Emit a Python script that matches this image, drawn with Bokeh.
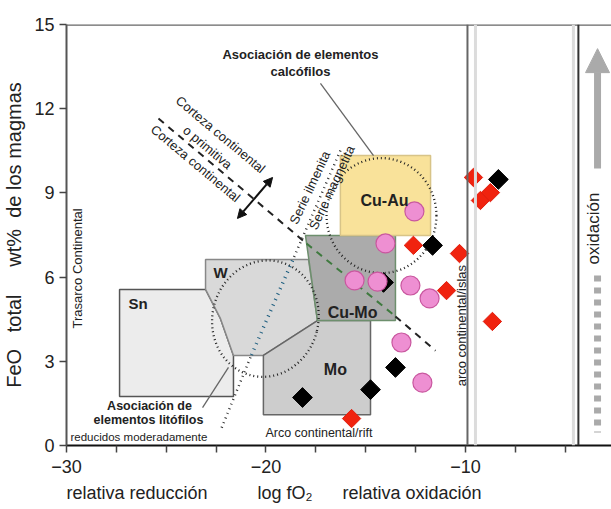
import math
from bokeh.plotting import figure
from bokeh.models import Range1d, FixedTicker, Label, Arrow, NormalHead, Span
from bokeh.embed import file_html
from bokeh.resources import INLINE

# ---------------- data ----------------
pink_x = [-14.01, -12.56, -15.56, -14.41, -12.76, -11.80, -13.21, -12.16]
pink_y = [7.20, 8.34, 5.88, 5.84, 5.70, 5.24, 3.67, 2.24]
black_x = [-14.11, -11.65, -8.35, -13.51, -14.76, -18.17]
black_y = [5.81, 7.13, 9.48, 2.78, 1.99, 1.71]
red_x = [-12.61, -10.30, -10.95, -8.65, -15.71, -9.60, -9.25, -8.75]
red_y = [7.13, 6.84, 5.52, 4.42, 0.96, 9.55, 8.73, 9.01]

x_major = [-30, -20, -10]
x_minor = [-27.5, -25, -22.5, -17.5, -15, -12.5, -7.5, -5]
y_ticks = [0, 3, 6, 9, 12, 15]

# ore-association fields (log fO2, FeO)
sn_x = [-27.34, -23.03, -22.28, -21.63, -21.63, -27.34]
sn_y = [5.56, 5.56, 4.52, 3.21, 1.75, 1.75]
w_x = [-23.03, -17.87, -17.42, -20.13, -21.63, -22.28, -23.03]
w_y = [6.63, 6.63, 4.45, 3.21, 3.21, 4.52, 5.56]
mo_x = [-20.13, -17.42, -14.76, -14.76, -20.13]
mo_y = [3.21, 4.45, 4.45, 1.10, 1.10]
cumo_x = [-18.02, -13.51, -13.51, -17.42]
cumo_y = [7.48, 7.48, 4.45, 4.45]
cuau_x = [-16.27, -11.75, -11.75, -16.27]
cuau_y = [10.33, 10.33, 7.48, 7.48]

# trend lines
crust_x = [-25.39, -17.97, -13.51, -11.50]
crust_y = [11.65, 7.20, 4.60, 3.38]
ilm_x = [-16.27, -18.67, -20.78, -22.28]
ilm_y = [10.51, 6.59, 3.14, 0.53]

FONT = "Liberation Sans"
NB = "\u00a0"

p = figure(width=611, height=509, output_backend="svg", toolbar_location=None,
           x_range=Range1d(-30, -2.68), y_range=Range1d(0, 15),
           min_border_left=66, min_border_top=24, min_border_bottom=64, min_border_right=0)
p.xgrid.visible = False
p.ygrid.visible = False
p.outline_line_color = None
p.background_fill_color = "white"

# axes
p.xaxis.ticker = FixedTicker(ticks=x_major, minor_ticks=x_minor)
p.yaxis.ticker = FixedTicker(ticks=y_ticks)
for ax in (p.xaxis[0], p.yaxis[0]):
    ax.major_label_text_font = FONT
    ax.major_label_text_font_size = "18px"
    ax.major_label_text_color = "#222"
    ax.major_tick_in = 0
    ax.major_tick_out = 7
    ax.major_tick_line_color = "#444"
    ax.major_tick_line_width = 1.5
    ax.minor_tick_in = 0
    ax.minor_tick_out = 7
    ax.minor_tick_line_color = "#444"
    ax.minor_tick_line_width = 1.5
    ax.axis_label_text_font = FONT
    ax.axis_label_text_font_style = "normal"
    ax.axis_label_text_color = "#222"
p.xaxis.axis_line_color = "#111"
p.xaxis.axis_line_width = 2
p.xaxis.major_label_standoff = 7
p.xaxis.axis_label = ("relativa reducción" + NB * 10 + "log" + NB + "fO₂" + NB * 6
                      + "relativa oxidación" + NB * 26)
p.xaxis.axis_label_text_font_size = "18px"
p.xaxis.axis_label_standoff = 7
p.yaxis.axis_line_color = "#555"
p.yaxis.axis_line_width = 2
p.yaxis.minor_tick_line_color = None
p.yaxis.major_label_standoff = 5
p.yaxis.axis_label = ("FeO" + NB * 3 + "total" + NB * 5 + "wt%" + NB * 2
                      + "de los magmas")
p.yaxis.axis_label_text_font_size = "20px"
p.yaxis.axis_label_standoff = 6

# frame top and vertical boundaries
p.add_layout(Span(location=15, dimension="width", line_color="#666", line_width=2.5))
p.add_layout(Span(location=-9.5, dimension="height", line_color="#dcdcdc", line_width=3))
p.add_layout(Span(location=-4.59, dimension="height", line_color="#dcdcdc", line_width=3))
p.add_layout(Span(location=-9.9, dimension="height", line_color="#666", line_width=2))
p.add_layout(Span(location=-4.34, dimension="height", line_color="#333", line_width=2))

# fields
p.patch(sn_x, sn_y, fill_color="#ececec", line_color="#555", line_width=1.5)
p.patch(w_x, w_y, fill_color="#d9d9d9", line_color="#888", line_width=1.5)
p.patch(mo_x, mo_y, fill_color="#cdcdcd", line_color="#666", line_width=1.5)
p.patch(cumo_x, cumo_y, fill_color="#ababab", line_color="#6d8f6d", line_width=1.5)
p.patch(cuau_x, cuau_y, fill_color="#f9e29a", line_color="#d8c488", line_width=1.5)

# association ellipses
p.ellipse(x=[-20.03], y=[4.52], width=5.31, height=4.17, angle=-0.25,
          fill_color=None, line_color="#222", line_width=2.3, line_dash="1 3")
p.ellipse(x=[-14.21], y=[8.19], width=5.51, height=4.10,
          fill_color=None, line_color="#222", line_width=2.3, line_dash="1 3")

# crust trend (dashed) and ilmenite/magnetite series line (dotted)
p.line(crust_x[:2], crust_y[:2], line_color="#222", line_width=2, line_dash="7 6")
p.line(crust_x[1:3], crust_y[1:3], line_color="#3f7a3f", line_width=2, line_dash="7 6")
p.line(crust_x[2:], crust_y[2:], line_color="#222", line_width=2, line_dash="7 6")
p.line(ilm_x[:2], ilm_y[:2], line_color="#333", line_width=2.5, line_dash="1 4")
p.line(ilm_x[1:3], ilm_y[1:3], line_color="#1f5f80", line_width=3.5, line_dash="1 5")
p.line(ilm_x[2:], ilm_y[2:], line_color="#333", line_width=2.5, line_dash="1 4")

# leader lines
p.line([-17.27, -14.61], [12.90, 10.33], line_color="#666", line_width=1.3)
p.line([-23.18, -21.88], [1.35, 2.78], line_color="#666", line_width=1.3)

# oxidation arrow and dotted column
p.line([-3.38, -3.38], [6.06, 0.46], line_color="#aaa", line_width=7, line_dash="6 6")
p.add_layout(Arrow(end=NormalHead(size=24, fill_color="#aaa", line_color="#aaa"),
                   x_start=-3.38, y_start=9.87, x_end=-3.38, y_end=14.14,
                   line_color="#aaa", line_width=7))
# crust double arrow
p.add_layout(Arrow(start=NormalHead(size=9, fill_color="#111", line_color="#111"),
                   end=NormalHead(size=9, fill_color="#111", line_color="#111"),
                   x_start=-21.43, y_start=8.09, x_end=-19.67, y_end=9.55,
                   line_color="#111", line_width=2))

# data points
p.scatter(black_x[:1], black_y[:1], marker="square", angle=math.pi / 4, size=14,
          fill_color="black", line_color="black")
p.scatter(pink_x, pink_y, marker="circle", size=19, fill_color="#ee8fd2",
          line_color="#c9579f", line_width=1.2)
p.scatter(black_x[1:], black_y[1:], marker="square", angle=math.pi / 4, size=14,
          fill_color="black", line_color="black")
p.scatter(red_x, red_y, marker="square", angle=math.pi / 4, size=13,
          fill_color="#f0230f", line_color="#e01e0e")


def lab(x, y, t, size="12px", style="normal", angle=0, align="center",
        baseline="middle", color="#222"):
    p.add_layout(Label(x=x, y=y, text=t, text_font=FONT, text_font_size=size,
                       text_font_style=style, angle=angle, angle_units="deg",
                       text_align=align, text_baseline=baseline, text_color=color))


# field names
lab(-26.89, 5.06, "Sn", "15px", "bold", align="left")
lab(-22.28, 6.16, "W", "15px", "bold")
lab(-14.06, 8.73, "Cu-Au", "16px", "bold")
lab(-15.66, 4.74, "Cu-Mo", "16px", "bold")
lab(-16.52, 2.71, "Mo", "16px", "bold")

# annotations
lab(-18.27, 13.93, "Asociación de elementos", "13px", "bold")
lab(-18.27, 13.32, "calcófilos", "13px", "bold")
lab(-25.84, 1.42, "Asociación de", "12.5px", "bold")
lab(-25.89, 0.90, "elementos litófilos", "12.5px", "bold")
lab(-29.8, 0.29, "reducidos moderadamente", "11.5px", align="left")
lab(-20.03, 0.43, "Arco continental/rift", "12.5px", align="left")
lab(-29.45, 6.31, "Trasarco Continental", "13px", angle=90)
lab(-10.20, 4.27, "arco continental/islas", "13px", angle=90)
lab(-3.58, 7.73, "oxidación", "17px", angle=90)
lab(-22.28, 11.08, "Corteza continental", "13px", angle=-40)
lab(-22.93, 10.62, "o primitiva", "13px", angle=-40)
lab(-23.53, 10.05, "Corteza continental", "13px", angle=-40)
lab(-17.80, 9.19, "Serie ilmenita", "13px", angle=65)
lab(-16.70, 9.19, "Serie magnetita", "13px", angle=65)

open("out.html", "w").write(file_html(p, INLINE))
